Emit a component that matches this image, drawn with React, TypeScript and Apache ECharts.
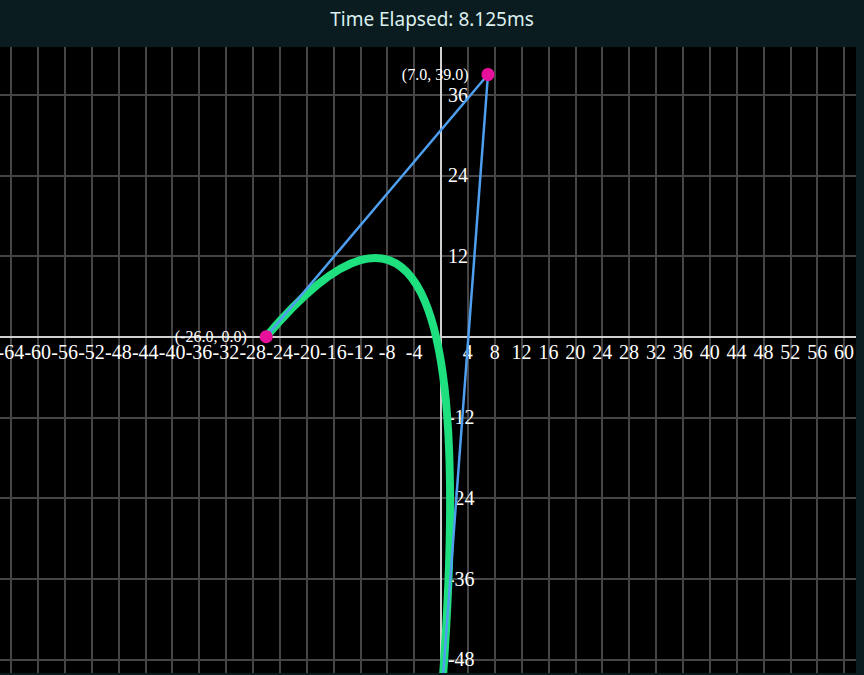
import React, { useEffect, useRef } from "react";
import * as echarts from "echarts";

// Control points of the quadratic Bézier (the third lies just below the view)
const controlX: number[] = [-26, 7, 0.2];
const controlY: number[] = [0, 39, -52];
const pointLabels: string[] = ["(-26.0, 0.0)", "(7.0, 39.0)", "(0.2, -52.0)"];

const xMin = -68;
const xMax = 64;
const xStep = 4;
const yMin = -60;
const yMax = 48;
const yStep = 12;
// tick labels visible in the window
const xLabelMin = -64;
const xLabelMax = 60;
const yLabelMin = -48;
const yLabelMax = 36;

const headerText = "Time Elapsed: 8.125ms";

// pixel scale of the plot (px per unit) and the visible window
const PX = 6.72;
const plotW = (xMax - xMin) * PX;
const plotH = (yMax - yMin) * PX;
const originX = 441; // page x of data x = 0
const originY = 336.5; // page y of data y = 0
const viewTop = 47;

export default function App() {
  const ref = useRef<HTMLDivElement>(null);
  const headRef = useRef<HTMLDivElement>(null);

  useEffect(() => {
    if (!ref.current || !headRef.current) return;
    const head = echarts.init(headRef.current, undefined, { renderer: "svg" });
    head.setOption({
      animation: false,
      backgroundColor: "transparent",
      title: {
        text: headerText,
        left: "center",
        top: 4,
        textStyle: {
          color: "#dcefef",
          fontSize: 19,
          fontWeight: "normal",
          fontFamily: "'Noto Sans', sans-serif",
        },
      },
    });

    const chart = echarts.init(ref.current, undefined, { renderer: "svg" });
    const pts = controlX.map((x, i) => [x, controlY[i]]);
    const labelFont = "'Liberation Serif', 'Times New Roman', serif";
    const zeroFromTop = yMax * PX;
    const zeroFromLeft = -xMin * PX;

    chart.setOption({
      animation: false,
      backgroundColor: "#000000",
      grid: {
        left: 0,
        top: 0,
        right: 0,
        bottom: 0,
        containLabel: false,
        outerBoundsMode: "none",
      },
      xAxis: {
        type: "value",
        min: xMin,
        max: xMax,
        interval: xStep,
        position: "bottom",
        offset: -(plotH - zeroFromTop),
        axisLine: { onZero: false, lineStyle: { color: "#d0d0d0", width: 2 } },
        axisTick: { show: false },
        splitLine: { show: true, lineStyle: { color: "#454545", width: 2 } },
        axisLabel: {
          color: "#ffffff",
          fontSize: 20,
          fontFamily: labelFont,
          margin: 5,
          formatter: (v: number) =>
            v === 0 || v < xLabelMin || v > xLabelMax ? "" : String(v),
        },
      },
      yAxis: {
        type: "value",
        min: yMin,
        max: yMax,
        interval: yStep,
        position: "left",
        offset: -zeroFromLeft,
        axisLine: { onZero: false, lineStyle: { color: "#d0d0d0", width: 2 } },
        axisTick: { show: false },
        splitLine: { show: true, lineStyle: { color: "#454545", width: 2 } },
        axisLabel: {
          inside: true,
          color: "#ffffff",
          fontSize: 20,
          fontFamily: labelFont,
          margin: 7,
          formatter: (v: number) =>
            v === 0 || v < yLabelMin || v > yLabelMax ? "" : String(v),
        },
      },
      series: [
        {
          type: "custom",
          z: 2,
          data: [pts[0]],
          encode: { x: 0, y: 1 },
          renderItem: (_params: any, api: any) => {
            const a = api.coord(pts[0]);
            const b = api.coord(pts[1]);
            const c = api.coord(pts[2]);
            return {
              type: "bezierCurve",
              shape: { x1: a[0], y1: a[1], cpx1: b[0], cpy1: b[1], x2: c[0], y2: c[1] },
              style: { stroke: "#1ee07f", lineWidth: 8, fill: null },
            };
          },
        },
        {
          type: "line",
          z: 3,
          data: pts,
          showSymbol: false,
          symbol: "none",
          lineStyle: { color: "#4f9ff0", width: 2.5 },
        },
        {
          type: "scatter",
          z: 4,
          data: pts.map((p, i) => ({ value: p, label: { formatter: pointLabels[i] } })),
          symbolSize: 13,
          itemStyle: { color: "#e6109b", opacity: 1 },
          label: {
            show: true,
            position: "left",
            distance: 13,
            color: "#ffffff",
            fontSize: 16,
            fontFamily: labelFont,
          },
        },
      ],
    });
    return () => {
      chart.dispose();
      head.dispose();
    };
  }, []);

  return (
    <div
      style={{
        position: "fixed",
        left: 0,
        top: 0,
        width: 864,
        height: 675,
        background: "#0a1c1f",
        overflow: "hidden",
      }}
    >
      <div
        ref={headRef}
        style={{ position: "absolute", left: 0, top: 0, width: 864, height: 47 }}
      />
      <div
        style={{
          position: "absolute",
          left: 0,
          top: viewTop,
          width: 856,
          height: 626,
          overflow: "hidden",
          background: "#000",
        }}
      >
        <div
          ref={ref}
          style={{
            position: "absolute",
            left: originX + xMin * PX,
            top: originY - viewTop - yMax * PX,
            width: plotW,
            height: plotH,
          }}
        />
      </div>
    </div>
  );
}
